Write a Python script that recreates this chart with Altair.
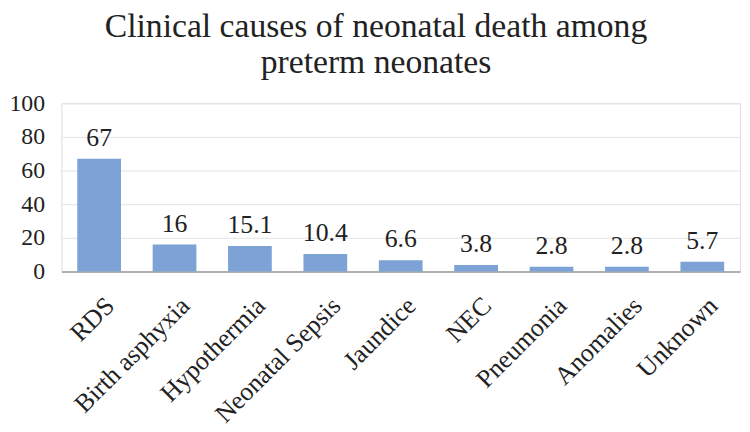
import altair as alt
import pandas as pd

categories = ["RDS", "Birth asphyxia", "Hypothermia", "Neonatal Sepsis", "Jaundice",
              "NEC", "Pneumonia", "Anomalies", "Unknown"]
values = [67, 16, 15.1, 10.4, 6.6, 3.8, 2.8, 2.8, 5.7]
labels = ["67", "16", "15.1", "10.4", "6.6", "3.8", "2.8", "2.8", "5.7"]

df = pd.DataFrame({"cause": categories, "value": values, "label": labels})

FONT = "Liberation Serif, Times New Roman, serif"

x = alt.X("cause:N", sort=categories, title=None,
          scale=alt.Scale(paddingInner=0.42, paddingOuter=0.21),
          axis=alt.Axis(labelAngle=-45, labelFontSize=26, labelFont=FONT,
                        labelColor="#222222", ticks=False, domainColor="#B0B0B0",
                        domainWidth=2, labelPadding=21, labelOffset=2,
                        labelLimit=400, labelAlign="right", labelBaseline="top"))
y = alt.Y("value:Q", title=None,
          scale=alt.Scale(domain=[0, 100]),
          axis=alt.Axis(values=[0, 20, 40, 60, 80, 100], labelFontSize=24,
                        labelFont=FONT, labelColor="#222222", domain=False,
                        ticks=False, gridColor="#E3E3E3", labelPadding=17))

bars = alt.Chart(df).mark_bar(color="#7CA2D6").encode(x=x, y=y)
text = alt.Chart(df).mark_text(dy=-13, fontSize=26, font=FONT, color="#222222",
                               baseline="alphabetic").encode(x=x, y=y, text="label:N")

chart = (bars + text).properties(
    width=686, height=170,
    autosize=alt.AutoSizeParams(type="none"),
    padding={"left": 54, "top": 94, "right": 2, "bottom": 160},
    title=alt.TitleParams(["Clinical causes of neonatal death among", "preterm neonates"],
                          font=FONT, fontSize=34, fontWeight="normal", color="#222222",
                          anchor="middle", dx=-25, offset=12, lineHeight=36),
).configure_view(stroke=None).configure(font=FONT)

chart.save("out.html", embed_options={"renderer": "svg", "actions": False})
